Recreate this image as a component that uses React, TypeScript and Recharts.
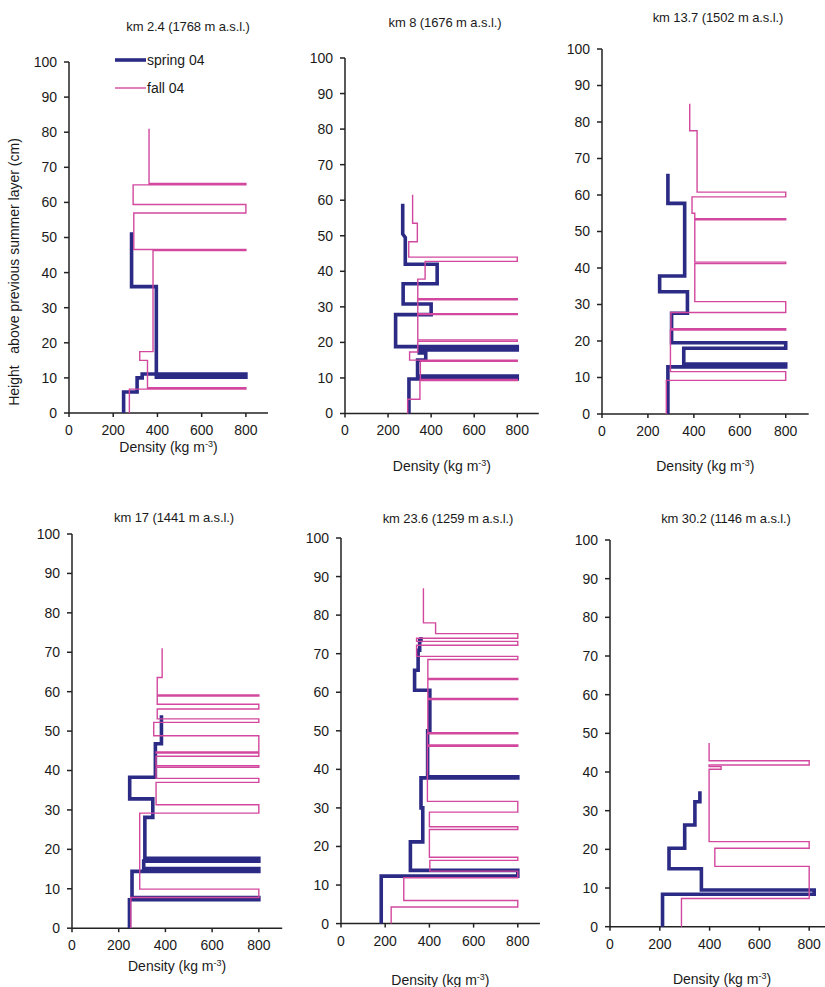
import React from 'react';
import { ScatterChart, Scatter, XAxis, YAxis, Legend, Label } from 'recharts';

// each profile point is [density (kg m-3), height above previous summer layer (cm)]
type Pt = [number, number];

const densityTicks = [0, 200, 400, 600, 800];
const heightTicks = [0, 10, 20, 30, 40, 50, 60, 70, 80, 90, 100];

const siteTitles = [
  'km 2.4 (1768 m a.s.l.)',
  'km 8 (1676 m a.s.l.)',
  'km 13.7 (1502 m a.s.l.)',
  'km 17 (1441 m a.s.l.)',
  'km 23.6 (1259 m a.s.l.)',
  'km 30.2 (1146 m a.s.l.)',
];

const springKm2_4: Pt[] = [
  [247, 0], [247, 6], [308, 6], [308, 10], [331, 10], [331, 11.1], [800, 11.1], [800, 10.2],
  [395, 10.2], [395, 36], [283, 36], [283, 51.5],
];
const fallKm2_4: Pt[] = [
  [273, 0], [273, 6.8], [800, 6.8], [800, 7.2], [355, 7.2], [355, 15], [320, 15], [320, 17.5],
  [380, 17.5], [380, 46.3], [800, 46.3], [800, 46.6], [293, 46.6], [293, 57], [800, 57],
  [800, 59.4], [290, 59.4], [290, 65], [800, 65], [800, 65.4], [362, 65.4], [362, 81],
];

const springKm8: Pt[] = [
  [297, 0], [297, 9.7], [800, 9.7], [800, 10.5], [337, 10.5], [337, 15], [375, 15], [375, 17],
  [345, 17], [345, 17.9], [800, 17.9], [800, 18.8], [235, 18.8], [235, 27.8], [400, 27.8],
  [400, 30.8], [270, 30.8], [270, 36.5], [428, 36.5], [428, 42], [280, 42], [280, 49.5],
  [268, 50.5], [268, 59],
];
const fallKm8: Pt[] = [
  [291, 0], [291, 4], [348, 4], [348, 9.3], [800, 9.3], [800, 9.6], [350, 9.6], [350, 14.7],
  [800, 14.7], [800, 15], [300, 15], [300, 17.3], [338, 17.3], [338, 20.3], [800, 20.3],
  [800, 20.7], [338, 20.7], [338, 27.8], [800, 27.8], [800, 28.1], [338, 28.1], [338, 32],
  [800, 32], [800, 32.3], [338, 32.3], [338, 37.8], [372, 37.8], [372, 42.8], [800, 42.8],
  [800, 44], [296, 44], [296, 48.3], [336, 48.3], [336, 53.5], [314, 53.5], [314, 61.5],
];

const springKm13_7: Pt[] = [
  [287, 0], [287, 12.9], [800, 12.9], [800, 13.7], [356, 13.7], [356, 18], [800, 18],
  [800, 19.5], [303, 19.5], [303, 27.6], [372, 27.6], [372, 33.5], [251, 33.5], [251, 37.8],
  [360, 37.8], [360, 57.7], [287, 57.7], [287, 65.8],
];
const fallKm13_7: Pt[] = [
  [280, 0], [280, 9.2], [800, 9.2], [800, 11.6], [298, 11.6], [298, 23], [800, 23], [800, 23.4],
  [300, 23.4], [300, 27.8], [800, 27.8], [800, 30.8], [404, 30.8], [404, 41.2], [800, 41.2],
  [800, 41.6], [404, 41.6], [404, 53.2], [800, 53.2], [800, 53.5], [404, 53.5], [404, 55],
  [392, 55], [392, 59.5], [800, 59.5], [800, 60.8], [414, 60.8], [414, 77.6], [382, 77.6],
  [382, 85],
];

const springKm17: Pt[] = [
  [246, 0], [246, 7.2], [800, 7.2], [800, 7.8], [257, 7.8], [257, 14.4], [800, 14.4], [800, 15.1],
  [307, 15.1], [307, 17], [800, 17], [800, 17.7], [312, 17.7], [312, 28.1], [346, 28.1],
  [346, 32.8], [247, 32.8], [247, 38.3], [357, 38.3], [357, 46.8], [383, 46.8], [383, 54],
];
const fallKm17: Pt[] = [
  [252, 0], [252, 7.8], [800, 7.8], [800, 9.9], [290, 9.9], [290, 29.2], [800, 29.2],
  [800, 31.3], [360, 31.3], [360, 37], [800, 37], [800, 38], [360, 38], [360, 40.8],
  [800, 40.8], [800, 41.2], [360, 41.2], [360, 43.6], [800, 43.6], [800, 44.4], [360, 44.4],
  [360, 44.7], [800, 44.7], [800, 48.8], [350, 48.8], [350, 52.2], [800, 52.2], [800, 53.1],
  [365, 53.1], [365, 55.6], [800, 55.6], [800, 56.8], [365, 56.8], [365, 58.9], [800, 58.9],
  [800, 59.2], [365, 59.2], [365, 63.6], [386, 63.6], [386, 71],
];

const springKm23_6: Pt[] = [
  [182, 0], [182, 12.3], [800, 12.3], [800, 13.8], [314, 13.8], [314, 21.2], [370, 21.2],
  [370, 30], [362, 30], [362, 37.8], [800, 37.8], [800, 38.1], [392, 38.1], [392, 50],
  [402, 50], [402, 60.5], [333, 60.5], [333, 65.7], [349, 65.7], [349, 70.9], [356, 70.9],
  [356, 73.4], [362, 73.4], [362, 74.3],
];
const fallKm23_6: Pt[] = [
  [227, 0], [227, 4.3], [800, 4.3], [800, 6], [284, 6], [284, 11.9], [800, 11.9], [800, 13.6],
  [402, 13.6], [402, 16.4], [800, 16.4], [800, 17.2], [400, 17.2], [400, 24.4], [800, 24.4],
  [800, 25.1], [400, 25.1], [400, 28.9], [800, 28.9], [800, 31.7], [391, 31.7], [391, 46],
  [800, 46], [800, 46.3], [391, 46.3], [391, 49.2], [800, 49.2], [800, 49.5], [393, 49.5],
  [393, 58.1], [800, 58.1], [800, 58.4], [393, 58.4], [393, 63.3], [800, 63.3], [800, 63.6],
  [393, 63.6], [393, 68.5], [800, 68.5], [800, 69.3], [342, 69.3], [342, 72.2], [800, 72.2],
  [800, 73.2], [342, 73.2], [342, 74], [800, 74], [800, 75.2], [428, 75.2], [428, 78],
  [373, 78], [373, 87],
];

const springKm30_2: Pt[] = [
  [211, 0], [211, 8.4], [820, 8.4], [820, 9.5], [367, 9.5], [367, 15], [237, 15], [237, 20.3],
  [300, 20.3], [300, 26.3], [341, 26.3], [341, 32.3], [361, 32.3], [361, 35],
];
const fallKm30_2: Pt[] = [
  [287, 0], [287, 7.3], [800, 7.3], [800, 15.6], [421, 15.6], [421, 20.3], [800, 20.3],
  [800, 22], [398, 22], [398, 40.7], [446, 40.7], [446, 41.4], [398, 41.4], [398, 41.8],
  [800, 41.8], [800, 42.9], [398, 42.9], [398, 47.5],
];

const springProfiles = [springKm2_4, springKm8, springKm13_7, springKm17, springKm23_6, springKm30_2];
const fallProfiles = [fallKm2_4, fallKm8, fallKm13_7, fallKm17, fallKm23_6, fallKm30_2];

const SPRING = { name: 'spring 04', color: '#2b2a85', width: 3.6 };
const FALL = { name: 'fall 04', color: '#d2489e', width: 1.4 };
const SERIES = [SPRING, FALL];

const FONT = '"Liberation Sans", Arial, sans-serif';
const INK = '#1a1a1a';

// plot box of each panel in page pixels: x of 0 and 900, y of 100 and 0
const boxes = [
  { x0: 69, x900: 268, y100: 62, y0: 413, padL: 69, labelDy: 39, tx: 188, ty: 27 },
  { x0: 345, x900: 538.8, y100: 57.5, y0: 413, padL: 50, labelDy: 58, tx: 445, ty: 23 },
  { x0: 602.3, x900: 809, y100: 49, y0: 414, padL: 50, labelDy: 57, tx: 718, ty: 18 },
  { x0: 71.6, x900: 281.8, y100: 533.5, y0: 927.7, padL: 50, labelDy: 43, tx: 174, ty: 518 },
  { x0: 340.5, x900: 539.4, y100: 537.7, y0: 923.3, padL: 50, labelDy: 61, tx: 448, ty: 519 },
  { x0: 610.2, x900: 834.3, y100: 540, y0: 926.7, padL: 50, labelDy: 57, tx: 726, ty: 519 },
];

const rows = (pts: Pt[]) => pts.map(([density, height]) => ({ density, height }));

const NoDot = () => <g />;

const DensityLabel = ({ viewBox, dy }: any) => (
  <text
    x={viewBox.x + viewBox.width / 2}
    y={viewBox.y + dy}
    textAnchor="middle"
    fontSize={14}
    fill={INK}
    fontFamily={FONT}
  >
    Density (kg m<tspan dy={-5} fontSize={9}>-3</tspan>
    <tspan dy={5}>)</tspan>
  </text>
);

const HeightLabel = ({ viewBox }: any) => {
  const x = viewBox.x - 20;
  const y = 250;
  return (
    <text
      x={x}
      y={y}
      transform={`rotate(-90 ${x} ${y})`}
      textAnchor="middle"
      fontSize={14}
      fill={INK}
      fontFamily={FONT}
      style={{ whiteSpace: 'pre' }}
    >
      {'Height   above previous summer layer (cm)'}
    </text>
  );
};

const LegendRows = ({ payload }: any) => {
  const items = SERIES.map((s) => {
    const hit = (payload || []).find((e: any) => e.value === s.name);
    return { name: s.name, color: hit ? hit.color : s.color, width: s.width };
  });
  return (
    <div style={{ fontFamily: FONT }}>
      {items.map((it) => (
        <div key={it.name} style={{ display: 'flex', alignItems: 'center', height: 28 }}>
          <svg width={31} height={8}>
            <line x1={0} y1={4} x2={31} y2={4} stroke={it.color} strokeWidth={it.width} />
          </svg>
          <span style={{ fontSize: 14, color: INK, marginLeft: 1 }}>{it.name}</span>
        </div>
      ))}
    </div>
  );
};

const Panel: React.FC<{ i: number }> = ({ i }) => {
  const b = boxes[i];
  const padT = 40;
  const padR = 10;
  const padB = 70;
  const W = b.x900 - b.x0 + b.padL + padR;
  const H = b.y0 - b.y100 + padT + padB;
  const left = b.x0 - b.padL;
  const top = b.y100 - padT;
  const axisStyle = { stroke: '#222', strokeWidth: 1.5 };
  return (
    <>
      <div
        style={{
          position: 'absolute',
          left: b.tx - 110,
          width: 220,
          top: b.ty - 8,
          textAlign: 'center',
          fontSize: 13,
          lineHeight: '16px',
          color: INK,
          fontFamily: FONT,
          letterSpacing: -0.1,
        }}
      >
        {siteTitles[i]}
      </div>
      <div style={{ position: 'absolute', left, top }}>
        <ScatterChart
          width={W}
          height={H}
          margin={{ top: padT, right: padR, bottom: padB - 30, left: b.padL - 30 }}
        >
          <XAxis
            type="number"
            dataKey="density"
            domain={[0, 900]}
            ticks={densityTicks}
            height={30}
            axisLine={axisStyle}
            tickLine={axisStyle}
            tickSize={4}
            tickMargin={8}
            tick={{ fill: INK, fontSize: 14, fontFamily: FONT }}
            interval={0}
          >
            <Label content={(p: any) => <DensityLabel {...p} dy={b.labelDy} />} />
          </XAxis>
          <YAxis
            type="number"
            dataKey="height"
            domain={[0, 100]}
            ticks={heightTicks}
            width={30}
            axisLine={axisStyle}
            tickLine={axisStyle}
            tickSize={5}
            tickMargin={7}
            tick={{ fill: INK, fontSize: 14, fontFamily: FONT }}
            interval={0}
          >
            {i === 0 && <Label content={(p: any) => <HeightLabel {...p} />} />}
          </YAxis>
          {i === 0 && (
            <Legend
              layout="vertical"
              align="center"
              verticalAlign="middle"
              content={<LegendRows />}
              wrapperStyle={{ left: 115, top: 24, width: 120 }}
            />
          )}
          <Scatter
            name={SPRING.name}
            data={rows(springProfiles[i])}
            fill={SPRING.color}
            line={{ stroke: SPRING.color, strokeWidth: SPRING.width, strokeLinejoin: 'miter' }}
            shape={NoDot}
            isAnimationActive={false}
          />
          <Scatter
            name={FALL.name}
            data={rows(fallProfiles[i])}
            fill={FALL.color}
            line={{ stroke: FALL.color, strokeWidth: FALL.width }}
            shape={NoDot}
            isAnimationActive={false}
          />
        </ScatterChart>
      </div>
    </>
  );
};

export default function App() {
  return (
    <div
      style={{
        position: 'absolute',
        left: 0,
        top: 0,
        width: 825,
        height: 987,
        overflow: 'hidden',
        background: '#fff',
      }}
    >
      {boxes.map((_, i) => (
        <Panel key={i} i={i} />
      ))}
    </div>
  );
}
